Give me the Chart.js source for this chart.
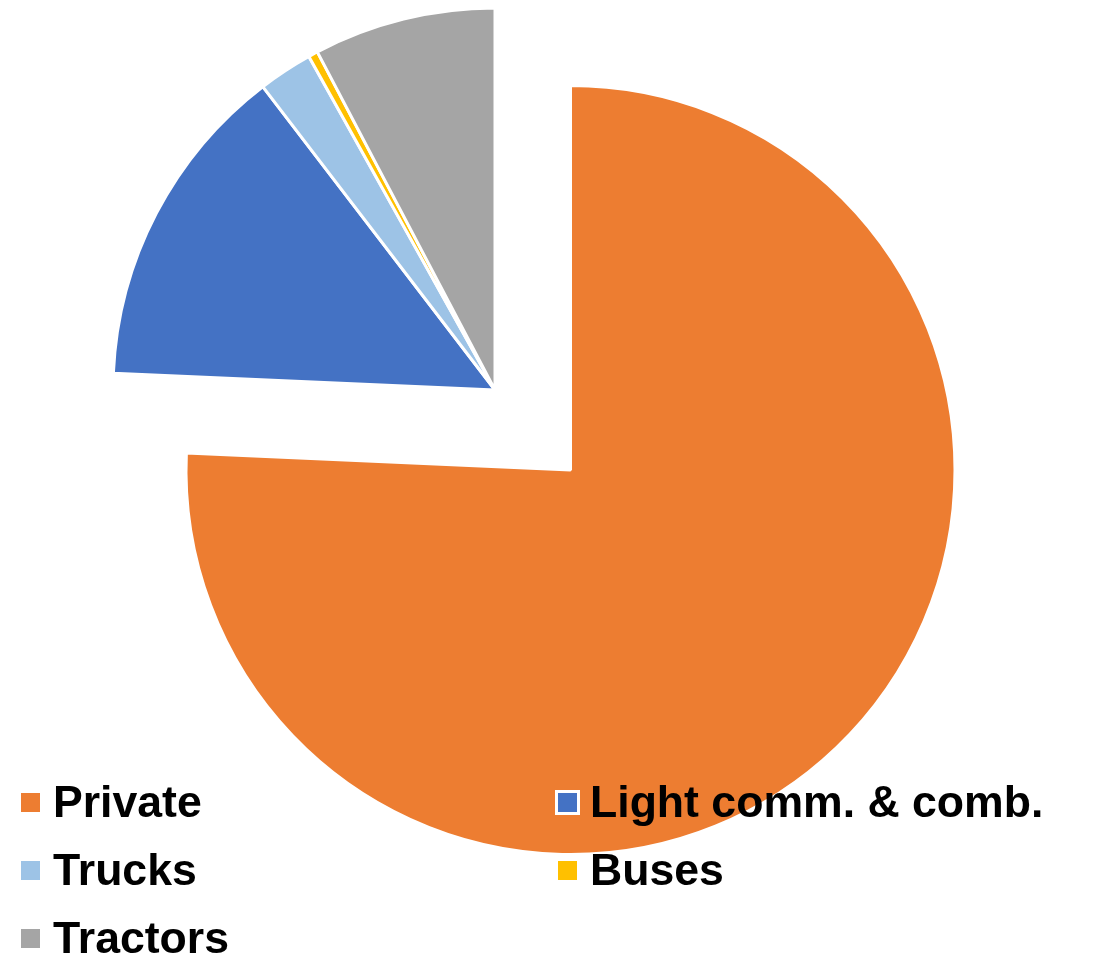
<!DOCTYPE html>
<html>
<head>
<meta charset="utf-8">
<title>Vehicle fleet by type</title>
<script src="https://cdn.jsdelivr.net/npm/chart.js@4.4.1/dist/chart.umd.min.js"></script>
<style>
  body { margin: 0; background: #fff; }
  #wrap { position: relative; width: 1099px; height: 958px; overflow: hidden; }
  #wrap canvas { position: absolute; left: 0; top: 0; }
  #legend {
    position: absolute; left: 18px; top: 768px;
    display: grid; grid-template-columns: 537px auto;
    font: bold 44.6px "Liberation Sans", Arial, sans-serif;
    line-height: 68px; color: #000;
  }
  .item { display: flex; align-items: center; white-space: nowrap; }
  .box { width: 19px; height: 19px; border: 3px solid #fff; margin-right: 10px; }
</style>
</head>
<body>
<div id="wrap">
  <canvas id="restPie" width="1099" height="958"></canvas>
  <canvas id="privatePie" width="1099" height="958"></canvas>
  <div id="legend"></div>
</div>
<script>
const categories = ['Private', 'Light comm. & comb.', 'Trucks', 'Buses', 'Tractors'];
const shares = [75.7, 13.9, 2.3, 0.4, 7.7];
const sliceColors = ['#ED7D31', '#4472C4', '#9DC3E6', '#FFC000', '#A5A5A5'];

// the Private slice is pulled out of the pie, so it gets its own canvas
// with the centre moved along the slice bisector
function makePie(id, show, radius, padding) {
  return new Chart(document.getElementById(id), {
    type: 'pie',
    data: {
      labels: categories,
      datasets: [{
        data: shares,
        backgroundColor: sliceColors.map((c, i) => show(i) ? c : 'rgba(0,0,0,0)'),
        borderColor: '#fff',
        borderWidth: categories.map((c, i) => show(i) ? 3 : 0)
      }]
    },
    options: {
      responsive: false,
      animation: false,
      radius,
      layout: { padding },
      plugins: { legend: { display: false }, tooltip: { enabled: false } }
    }
  });
}

makePie('restPie', i => i !== 0, 382, { left: 0, right: 109, top: 0, bottom: 178 });
makePie('privatePie', i => i === 0, 384.5, { left: 42, right: 0, top: 0, bottom: 18 });

const legend = document.getElementById('legend');
categories.forEach((name, i) => {
  const item = document.createElement('div');
  item.className = 'item';
  item.innerHTML = `<span class="box" style="background:${sliceColors[i]}"></span>${name}`;
  legend.appendChild(item);
});
</script>
</body>
</html>
